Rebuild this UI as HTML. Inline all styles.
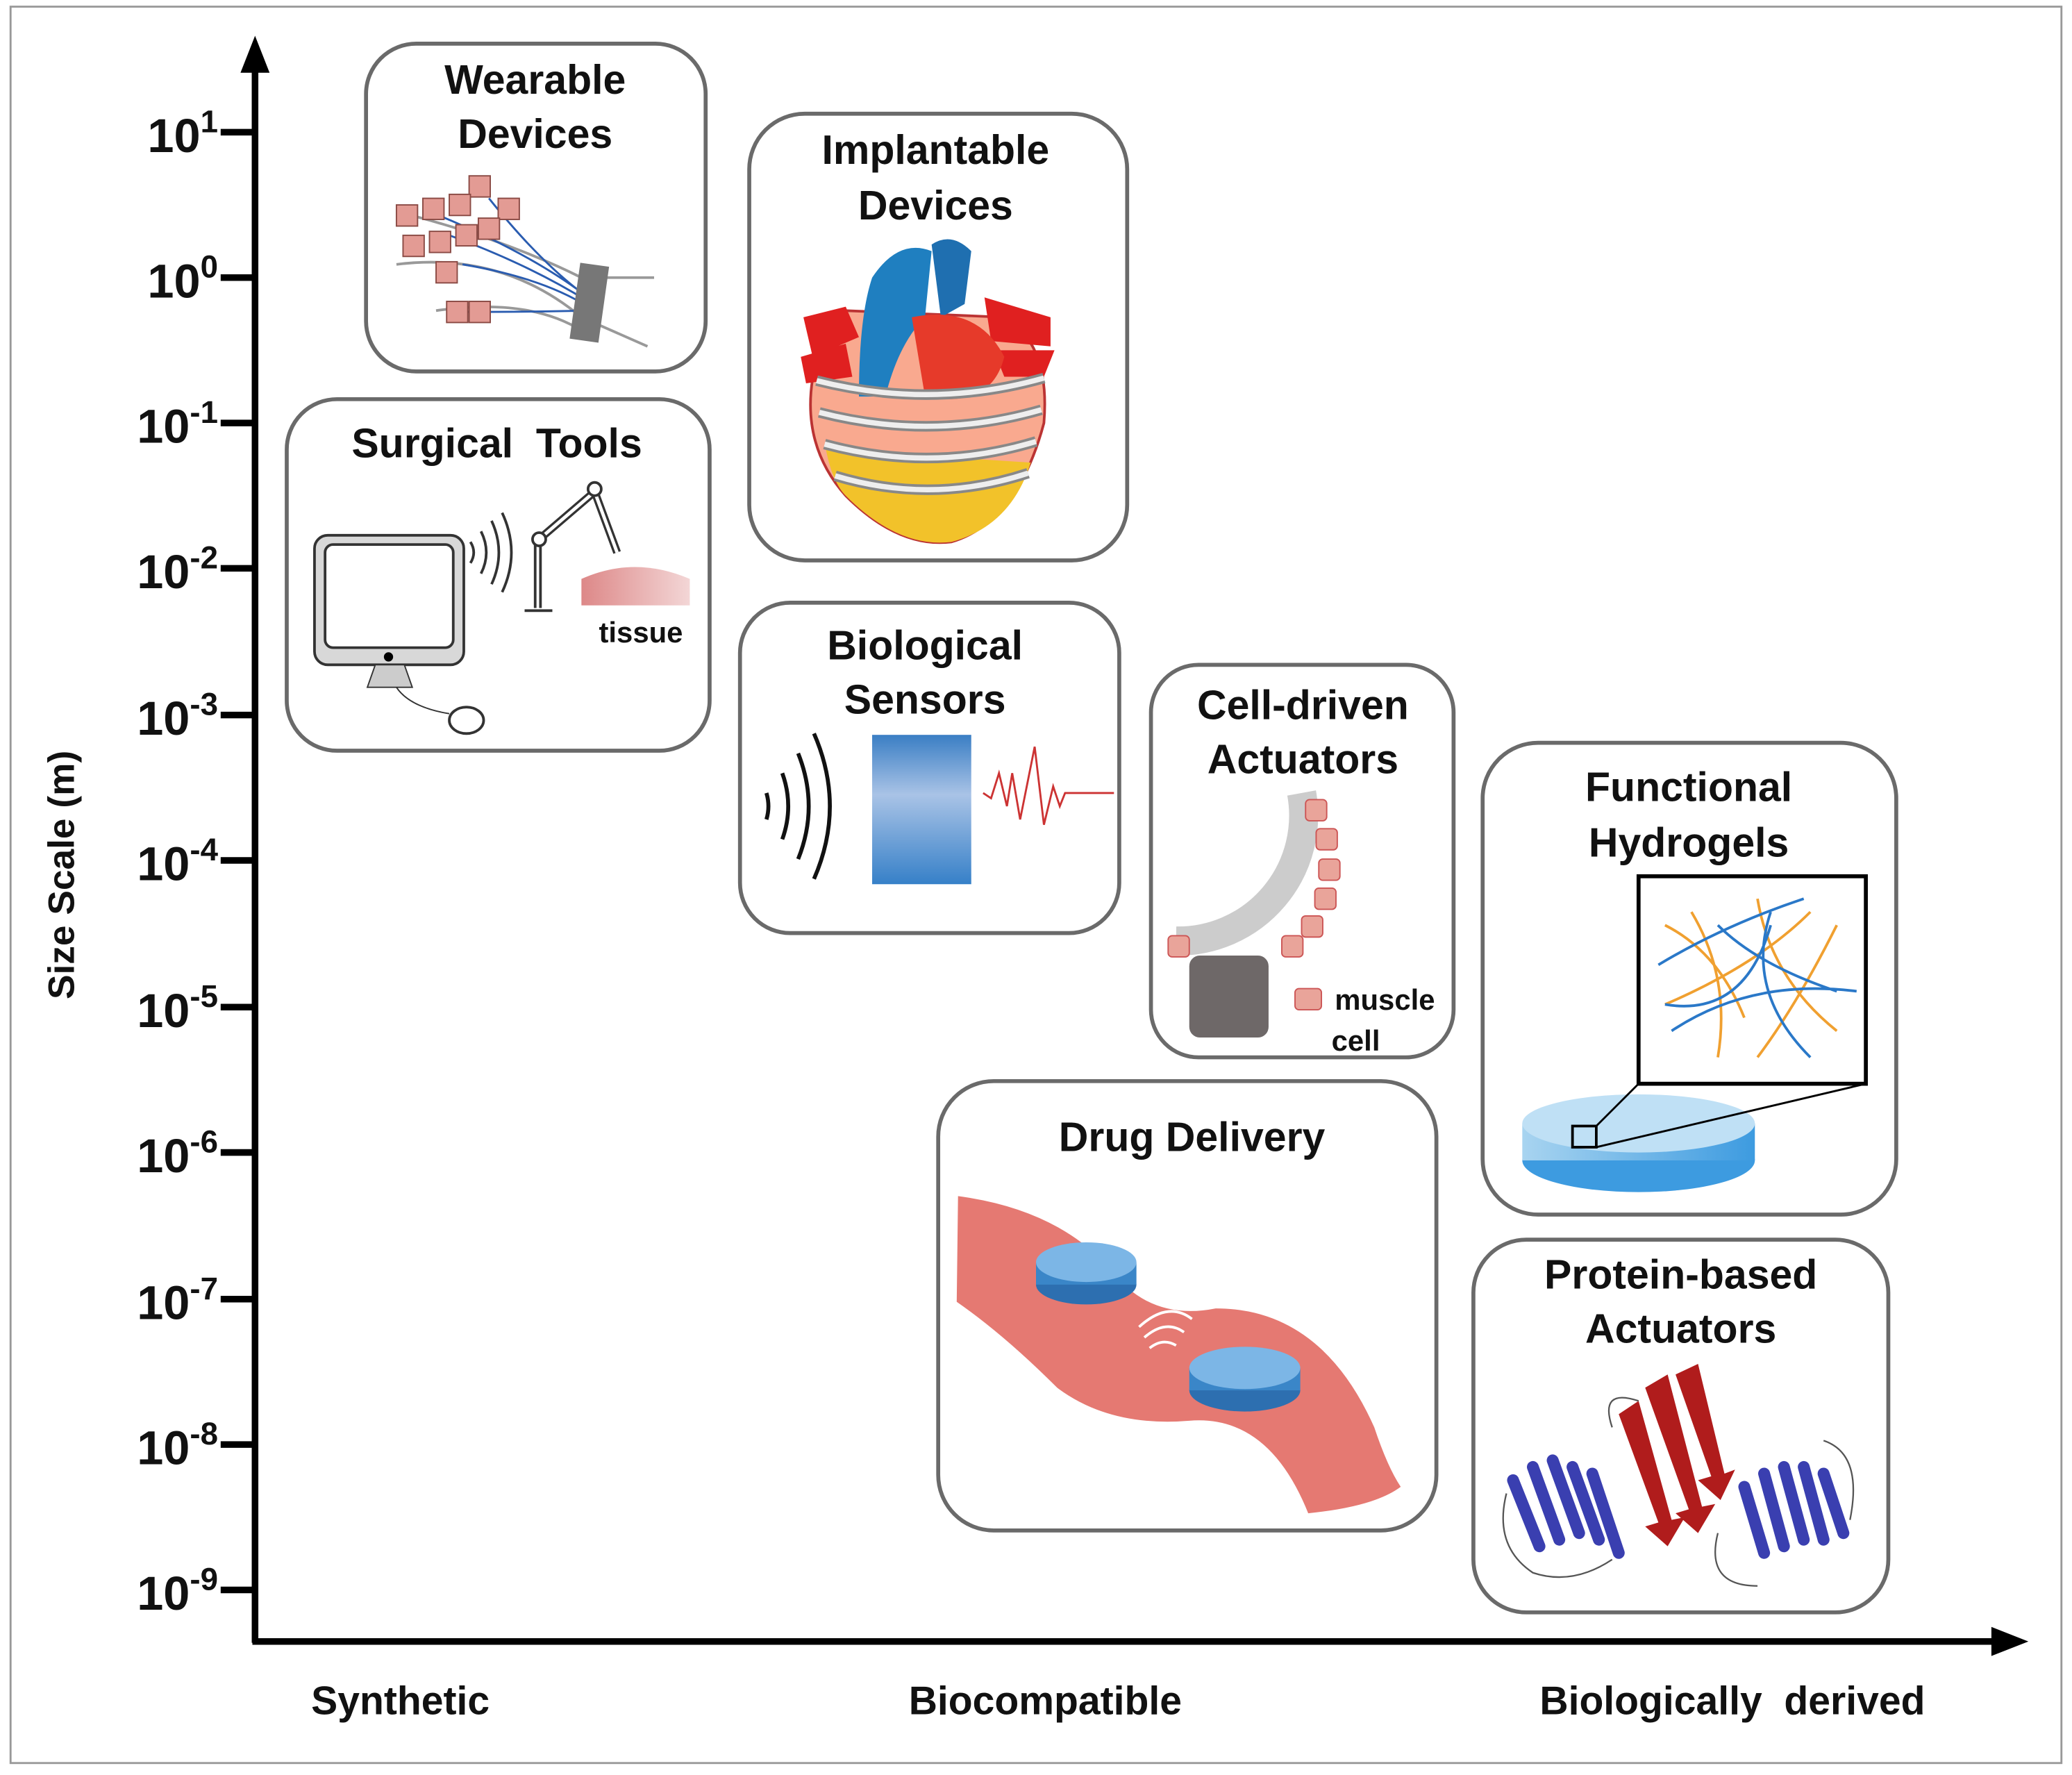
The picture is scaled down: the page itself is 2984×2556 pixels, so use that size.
<!DOCTYPE html>
<html><head><meta charset="utf-8"><style>html,body{margin:0;padding:0;background:#fff}svg{display:block}text{font-family:"Liberation Sans",Arial,sans-serif;font-weight:bold;fill:#111}</style></head>
<body>
<svg width="2984" height="2556" viewBox="0 0 1568 1343" xmlns="http://www.w3.org/2000/svg" font-family="Liberation Sans, Arial, sans-serif" font-weight="bold">
<defs>
<linearGradient id="bl" x1="0" y1="0" x2="0" y2="1"><stop offset="0" stop-color="#3a7ec4"/><stop offset="0.4" stop-color="#a9c3e6"/><stop offset="1" stop-color="#3680c8"/></linearGradient>
<linearGradient id="tis" x1="0" y1="0" x2="1" y2="0"><stop offset="0" stop-color="#d88"/><stop offset="1" stop-color="#f3d6d6"/></linearGradient>
<linearGradient id="disk" x1="0" y1="0" x2="1" y2="0"><stop offset="0" stop-color="#a8d4f0"/><stop offset="1" stop-color="#3d9be0"/></linearGradient>
</defs>
<rect x="8" y="5" width="1552" height="1329" fill="none" stroke="#999" stroke-width="1.5"/>
<line x1="193" y1="45" x2="193" y2="1243" stroke="#000" stroke-width="5"/>
<polygon points="193,27 182,55 204,55" fill="#000"/>
<line x1="191" y1="1242" x2="1515" y2="1242" stroke="#000" stroke-width="5"/>
<polygon points="1535,1242 1507,1231 1507,1253" fill="#000"/>
<g stroke="#000" stroke-width="5">
<line x1="167" y1="100" x2="193" y2="100"/><line x1="167" y1="210" x2="193" y2="210"/><line x1="167" y1="320" x2="193" y2="320"/><line x1="167" y1="430" x2="193" y2="430"/><line x1="167" y1="541" x2="193" y2="541"/><line x1="167" y1="651" x2="193" y2="651"/><line x1="167" y1="762" x2="193" y2="762"/><line x1="167" y1="872" x2="193" y2="872"/><line x1="167" y1="983" x2="193" y2="983"/><line x1="167" y1="1093" x2="193" y2="1093"/><line x1="167" y1="1203" x2="193" y2="1203"/>
</g>
<g font-size="36" text-anchor="end">
<text x="165" y="115">10<tspan font-size="24" dy="-15">1</tspan></text>
<text x="165" y="225">10<tspan font-size="24" dy="-15">0</tspan></text>
<text x="165" y="335">10<tspan font-size="24" dy="-15">-1</tspan></text>
<text x="165" y="445">10<tspan font-size="24" dy="-15">-2</tspan></text>
<text x="165" y="556">10<tspan font-size="24" dy="-15">-3</tspan></text>
<text x="165" y="666">10<tspan font-size="24" dy="-15">-4</tspan></text>
<text x="165" y="777">10<tspan font-size="24" dy="-15">-5</tspan></text>
<text x="165" y="887">10<tspan font-size="24" dy="-15">-6</tspan></text>
<text x="165" y="998">10<tspan font-size="24" dy="-15">-7</tspan></text>
<text x="165" y="1108">10<tspan font-size="24" dy="-15">-8</tspan></text>
<text x="165" y="1218">10<tspan font-size="24" dy="-15">-9</tspan></text>
</g>
<text x="56" y="662" font-size="28" text-anchor="middle" transform="rotate(-90 56 662)">Size Scale (m)</text>
<g font-size="30" text-anchor="middle">
<text x="303" y="1297">Synthetic</text><text x="791" y="1297">Biocompatible</text><text x="1311" y="1297" xml:space="preserve">Biologically  derived</text>
</g>
<g fill="#fff" stroke="#6a6a6a" stroke-width="3">
<rect x="277" y="33" width="257" height="248" rx="38"/>
<rect x="217" y="302" width="320" height="266" rx="38"/>
<rect x="567" y="86" width="286" height="338" rx="42"/>
<rect x="560" y="456" width="287" height="250" rx="38"/>
<rect x="871" y="503" width="229" height="297" rx="36"/>
<rect x="710" y="818" width="377" height="340" rx="42"/>
<rect x="1122" y="562" width="313" height="357" rx="42"/>
<rect x="1115" y="938" width="314" height="282" rx="40"/>
</g>
<g font-size="31" text-anchor="middle">
<text x="405" y="71">Wearable</text><text x="405" y="112">Devices</text>
<text x="376" y="346" xml:space="preserve">Surgical  Tools</text>
<text x="708" y="124">Implantable</text><text x="708" y="166">Devices</text>
<text x="700" y="499">Biological</text><text x="700" y="540">Sensors</text>
<text x="986" y="544">Cell-driven</text><text x="986" y="585">Actuators</text>
<text x="902" y="871">Drug Delivery</text>
<text x="1278" y="606">Functional</text><text x="1278" y="648">Hydrogels</text>
<text x="1272" y="975">Protein-based</text><text x="1272" y="1016">Actuators</text>
</g>
<g stroke="#999" stroke-width="2" fill="none">
<path d="M300,160 Q380,180 440,210 L495,210 M300,200 Q380,190 440,240 L490,262 M330,235 Q400,225 440,250"/>
</g>
<g stroke="#2a5cb0" stroke-width="1.5" fill="none">
<path d="M320,158 Q400,190 445,225 M340,178 Q400,200 445,228 M350,200 Q410,210 445,232 M370,150 Q410,200 445,225 M350,236 Q400,236 445,235"/>
</g>
<g fill="#e39b94" stroke="#8a4a44" stroke-width="1">
<rect x="355" y="133" width="16" height="16"/><rect x="377" y="150" width="16" height="16"/><rect x="340" y="147" width="16" height="16"/><rect x="320" y="150" width="16" height="16"/><rect x="300" y="155" width="16" height="16"/><rect x="305" y="178" width="16" height="16"/><rect x="325" y="175" width="16" height="16"/><rect x="345" y="170" width="16" height="16"/><rect x="362" y="165" width="16" height="16"/><rect x="330" y="198" width="16" height="16"/><rect x="338" y="228" width="16" height="16"/><rect x="355" y="228" width="16" height="16"/>
</g>
<rect x="435" y="200" width="22" height="58" fill="#777" transform="rotate(8 446 229)"/>
<rect x="238" y="405" width="113" height="98" rx="10" fill="#d8d8d8" stroke="#333" stroke-width="2"/>
<rect x="246" y="412" width="97" height="78" rx="6" fill="#fff" stroke="#333" stroke-width="2"/>
<circle cx="294" cy="497" r="3.5" fill="#000"/>
<path d="M284,503 L278,520 L312,520 L306,503Z" fill="#ccc" stroke="#333"/>
<path d="M300,520 Q310,535 340,540" stroke="#333" fill="none"/><ellipse cx="353" cy="545" rx="13" ry="10" fill="#fff" stroke="#333" stroke-width="2"/>
<g stroke="#333" stroke-width="2" fill="none"><path d="M356,410 q5,8 0,16 M364,402 q8,16 0,32 M372,394 q11,24 0,48 M380,388 q14,30 0,60"/></g>
<g stroke="#333" stroke-width="2" fill="#fff"><path d="M405,410 L405,460 M397,462 L418,462 M409,410 L409,460"/><path d="M408,408 L450,372 L467,418" fill="none" stroke-width="6"/><path d="M408,408 L450,372 L467,418" fill="none" stroke="#fff" stroke-width="2.5"/><circle cx="408" cy="408" r="5"/><circle cx="450" cy="370" r="5"/></g>
<path d="M440,458 L440,438 Q480,420 522,438 L522,458Z" fill="url(#tis)"/>
<text x="485" y="486" font-size="22" text-anchor="middle">tissue</text>
<path d="M620,265 Q600,330 640,375 Q680,415 720,410 Q770,395 790,320 Q795,260 760,240 L640,235 Z" fill="#f9a98f" stroke="#b33" stroke-width="2"/>
<path d="M640,375 Q680,415 720,410 Q765,398 780,350 L625,340 Q630,365 640,375Z" fill="#f2c22a"/>
<path d="M608,240 L640,232 L650,255 L615,270Z M606,270 L640,260 L645,285 L610,290Z" fill="#e02020"/>
<path d="M745,225 L795,240 L795,262 L750,258Z M752,265 L798,265 L790,285 L760,285Z" fill="#e02020"/>
<path d="M660,210 Q680,180 705,190 L700,240 Q680,260 670,300 L650,300 Q650,240 660,210Z" fill="#1f7fc0"/>
<path d="M705,185 Q720,175 735,190 L730,230 L712,240Z" fill="#1f6fb0"/>
<path d="M690,240 Q740,230 760,270 Q750,310 700,300Z" fill="#e63a2a"/>
<g stroke="#888" stroke-width="8" fill="none"><path d="M618,288 Q705,310 790,286"/><path d="M620,312 Q705,334 788,310"/><path d="M624,336 Q705,358 784,334"/><path d="M632,360 Q705,382 778,358"/></g>
<g stroke="#eee" stroke-width="4" fill="none"><path d="M618,288 Q705,310 790,286"/><path d="M620,312 Q705,334 788,310"/><path d="M624,336 Q705,358 784,334"/><path d="M632,360 Q705,382 778,358"/></g>
<g stroke="#111" stroke-width="3" fill="none"><path d="M580,600 q3,10 0,20"/><path d="M592,585 q9,25 0,50"/><path d="M604,570 q16,40 0,80"/><path d="M616,555 q24,55 0,110"/></g>
<rect x="660" y="556" width="75" height="113" fill="url(#bl)"/>
<polyline points="744,600 750,604 756,585 762,610 766,585 772,620 783,565 790,624 797,595 802,610 806,600 843,600" stroke="#c33" stroke-width="1.5" fill="none"/>
<path d="M985,600 A95,95 0 0 1 890,712" stroke="#ccc" stroke-width="22" fill="none"/>
<g fill="#e9a49a" stroke="#c55" stroke-width="1">
<rect x="988" y="605" width="16" height="16" rx="3"/><rect x="996" y="627" width="16" height="16" rx="3"/><rect x="998" y="650" width="16" height="16" rx="3"/><rect x="995" y="672" width="16" height="16" rx="3"/><rect x="985" y="693" width="16" height="16" rx="3"/><rect x="970" y="708" width="16" height="16" rx="3"/><rect x="884" y="708" width="16" height="16" rx="3"/><rect x="980" y="748" width="20" height="16" rx="3"/>
</g>
<rect x="900" y="723" width="60" height="62" rx="8" fill="#6e6868"/>
<text x="1048" y="764" font-size="22" text-anchor="middle">muscle</text><text x="1026" y="795" font-size="22" text-anchor="middle">cell</text>
<path d="M725,905 Q800,915 840,960 Q870,1000 920,990 Q1000,990 1040,1080 Q1050,1110 1060,1125 Q1040,1140 990,1145 Q960,1070 900,1075 Q840,1080 800,1050 Q760,1010 724,985Z" fill="#e26a63" opacity="0.9"/>
<g><ellipse cx="822" cy="972" rx="38" ry="15" fill="#2d6fb0"/><rect x="784" y="955" width="76" height="17" fill="#3a86c8"/><ellipse cx="822" cy="955" rx="38" ry="15" fill="#7cb6e6"/></g>
<g><ellipse cx="942" cy="1052" rx="42" ry="16" fill="#2d6fb0"/><rect x="900" y="1035" width="84" height="17" fill="#3a86c8"/><ellipse cx="942" cy="1035" rx="42" ry="16" fill="#7cb6e6"/></g>
<g stroke="#fff" stroke-width="2" fill="none"><path d="M870,1020 q10,-8 20,-2 M866,1012 q16,-14 30,-4 M862,1004 q22,-20 40,-6"/></g>
<ellipse cx="1240" cy="878" rx="88" ry="24" fill="#3d9be0"/><rect x="1152" y="850" width="176" height="28" fill="url(#disk)"/><ellipse cx="1240" cy="850" rx="88" ry="22" fill="#bfe0f5"/>
<rect x="1190" y="852" width="18" height="16" fill="none" stroke="#000" stroke-width="2"/>
<line x1="1208" y1="852" x2="1240" y2="820" stroke="#000" stroke-width="1.5"/><line x1="1208" y1="868" x2="1412" y2="820" stroke="#000" stroke-width="1.5"/>
<rect x="1240" y="663" width="172" height="157" fill="#fff" stroke="#000" stroke-width="3"/>
<g stroke="#f0a030" stroke-width="2" fill="none"><path d="M1260,700 q40,20 60,70 M1280,690 q30,50 20,110 M1330,680 q10,60 60,100 M1370,690 q-40,40 -110,70 M1390,700 q-30,60 -60,100"/></g>
<g stroke="#2a78c8" stroke-width="2" fill="none"><path d="M1255,730 q50,-30 110,-50 M1265,780 q60,-40 140,-30 M1300,700 q30,30 90,50 M1340,690 q-20,60 30,110 M1260,760 q60,10 80,-60"/></g>
<g stroke="#3a3fb0" stroke-width="9" fill="none" stroke-linecap="round">
<path d="M1145,1120 L1165,1170 M1160,1110 L1180,1165 M1175,1105 L1195,1160 M1190,1110 L1210,1165 M1205,1115 L1225,1175"/>
<path d="M1320,1125 L1335,1175 M1335,1115 L1350,1170 M1350,1110 L1365,1165 M1365,1110 L1380,1165 M1380,1115 L1395,1160"/>
</g>
<g fill="#b01c1c"><path d="M1225,1070 L1240,1060 L1265,1150 L1275,1148 L1262,1170 L1245,1155 L1255,1152Z"/><path d="M1245,1050 L1262,1040 L1288,1140 L1298,1138 L1285,1160 L1268,1145 L1278,1142Z"/><path d="M1268,1040 L1285,1032 L1305,1115 L1313,1112 L1302,1135 L1285,1120 L1295,1117Z"/></g>
<g stroke="#555" stroke-width="1.2" fill="none"><path d="M1140,1130 q-10,40 20,60 q30,10 60,-10 M1240,1060 q-30,-10 -20,20 M1300,1160 q-10,40 30,40 M1380,1090 q30,10 20,60"/></g>
</svg>
</body></html>
